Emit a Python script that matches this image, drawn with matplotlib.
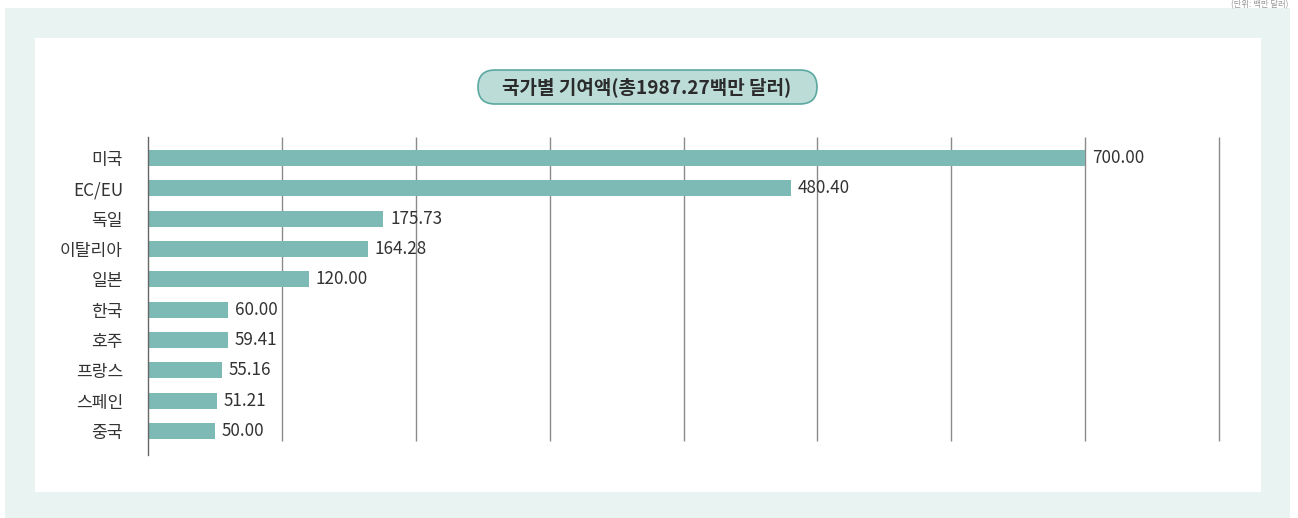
import matplotlib.pyplot as plt
from matplotlib.patches import FancyBboxPatch, Rectangle
import numpy as np

plt.rcParams['font.family'] = ['Noto Sans CJK KR', 'DejaVu Sans']

countries = ['미국', 'EC/EU', '독일', '이탈리아', '일본', '한국', '호주', '프랑스', '스페인', '중국']
amounts = [700.00, 480.40, 175.73, 164.28, 120.00, 60.00, 59.41, 55.16, 51.21, 50.00]
value_labels = ['700.00', '480.40', '175.73', '164.28', '120.00', '60.00', '59.41', '55.16', '51.21', '50.00']
grid_ticks = [0, 100, 200, 300, 400, 500, 600, 700, 800]
title = '국가별 기여액(총1987.27백만 달러)'
unit_note = '(단위: 백만 달러)'

bar_color = '#7dbab5'
text_color = '#333333'
W, H = 1298, 518

fig = plt.figure(figsize=(W / 100, H / 100), dpi=100)
fig.patch.set_facecolor('white')

# background layer in pixel coordinates (y down)
bg = fig.add_axes([0, 0, 1, 1])
bg.set_xlim(0, W)
bg.set_ylim(H, 0)
bg.axis('off')
bg.add_patch(Rectangle((5, 8), 1285, H - 8, facecolor='#e9f3f1', edgecolor='none'))
bg.add_patch(Rectangle((35, 38), 1226, 454, facecolor='white', edgecolor='none'))
bg.add_patch(FancyBboxPatch((478, 70), 339, 34, boxstyle='round,pad=0,rounding_size=17',
                            facecolor='#bcdcd8', edgecolor='#5aa8a0', linewidth=1.2))
bg.text(647, 87, title, ha='center', va='center', fontsize=13.7,
        fontweight='bold', color='#2b2b2b')
bg.text(1288, 0, unit_note, ha='right', va='top', fontsize=6, color='#999999')

ax = fig.add_axes([148 / W, 63 / H, 1071 / W, 318 / H])
ax.set_zorder(3)
ax.set_facecolor('none')
y = np.arange(len(countries))
ax.barh(y, amounts, height=0.53, color=bar_color, zorder=2)
ax.vlines(grid_ticks[1:], -0.69, 9.33, color='#8a8a8a', linewidth=1, zorder=1, clip_on=False)

for yi, v, lab in zip(y, amounts, value_labels):
    ax.annotate(lab, (v, yi), xytext=(5, 0), textcoords='offset points',
                ha='left', va='center', fontsize=12.3, color=text_color)

ax.set_xlim(0, 800)
ax.set_ylim(9.79, -0.69)
ax.set_yticks(y)
ax.set_yticklabels(countries, fontsize=12.3, color=text_color)
ax.tick_params(axis='y', length=0, pad=18)
ax.set_xticks([])
for side in ['top', 'right', 'bottom']:
    ax.spines[side].set_visible(False)
ax.spines['left'].set_color('#666666')
ax.spines['left'].set_linewidth(1)

fig.savefig('out.png', dpi=100)
